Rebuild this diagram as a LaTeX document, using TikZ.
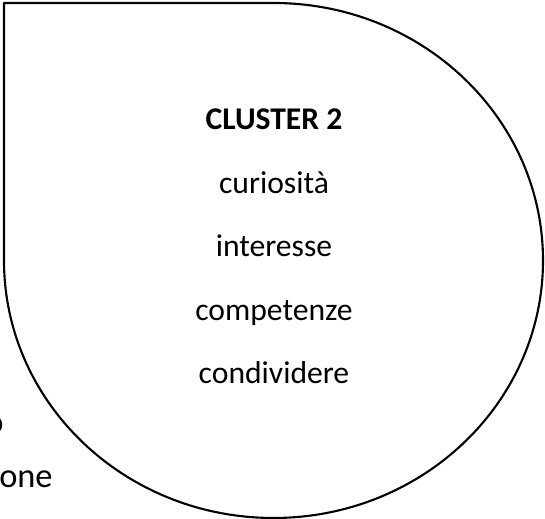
\documentclass[tikz,border=0pt]{standalone}
\usepackage{fontspec}
\setmainfont{Carlito}
\usepackage{tikz}
\usetikzlibrary{positioning}
\tikzstyle{word} = [anchor=base, inner sep=0pt, font=\fontsize{18}{22}\selectfont]
\tikzstyle{outword} = [anchor=base east, inner sep=0pt, font=\fontsize{19.6}{24}\selectfont]
\tikzstyle{outline} = [line width=1.2pt, black, line join=round]

\begin{document}
\begin{tikzpicture}[x=0.02cm, y=0.02cm]

    \useasboundingbox (0,0) rectangle (545,519);
    \clip (0,0) rectangle (545,519); % text on the left runs off the page

    % drop shape: square corner top left, elliptic arc for the rest
    \coordinate (Corner) at (4,516);
    \coordinate (Top)    at (273.5,516);
    \draw [outline] (Corner) -- (Top)
        arc [start angle=90, end angle=-180, x radius=269.5, y radius=257.5]
        -- cycle;

    \node[word, font=\fontsize{18}{22}\selectfont\bfseries] (title) at (274,389) {CLUSTER 2};
    \foreach \w [count=\i] in {curiosità, interesse, competenze, condividere}{% one word per line
        \node[word] (w\i) at (274,389-63.5*\i) {\w};
    }

    % words cut off at the left border
    \node[outword] (cut1) at (4,85) {o};
    \node[outword] (cut2) at (53,31) {one};

\end{tikzpicture}
\end{document}
